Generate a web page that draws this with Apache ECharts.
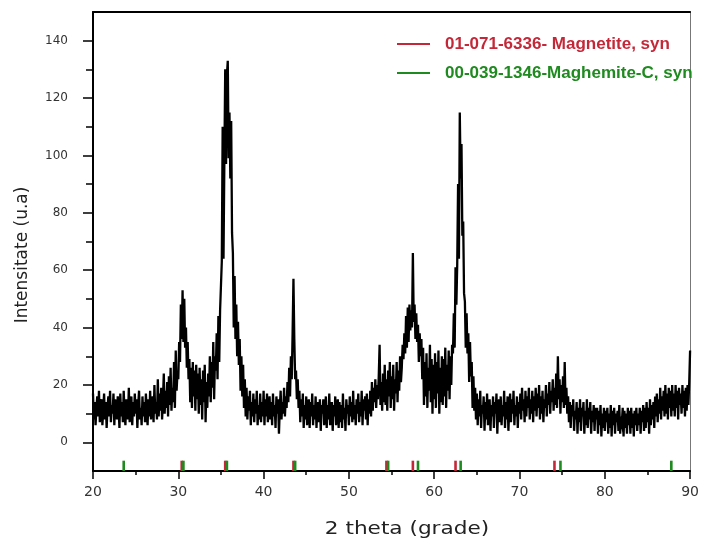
<!DOCTYPE html>
<html>
<head>
<meta charset="utf-8">
<script src="https://cdn.jsdelivr.net/npm/echarts@6/dist/echarts.min.js"></script>
<style>
  html, body { margin: 0; padding: 0; background: #fff; }
  #chart { width: 702px; height: 539px; }
</style>
</head>
<body>
<div id="chart"></div>
<script>
// XRD scan: intensity sampled every 0.1 degree 2-theta from 20 to 90 (one row per degree)
const scanStart = 20;
const scanStep = 0.1;
const intensity = [
  17, 8, 14, 6, 12, 16, 9, 18, 7, 13,          // 20
  15, 6, 11, 17, 8, 14, 5, 12, 16, 9,          // 21
  18, 7, 13, 10, 17, 6, 15, 11, 8, 16,         // 22
  12, 5, 17, 9, 14, 7, 18, 10, 6, 15,          // 23
  13, 8, 19, 7, 11, 16, 6, 14, 9, 17,          // 24
  10, 15, 5, 13, 18, 8, 12, 6, 16, 9,          // 25
  14, 7, 17, 11, 6, 15, 9, 18, 8, 13,          // 26
  16, 7, 20, 10, 14, 8, 22, 9, 17, 11,         // 27
  19, 8, 15, 24, 10, 18, 12, 21, 9, 23,        // 28
  13, 26, 11, 19, 14, 28, 12, 32, 18, 24,      // 29
  22, 35, 28, 48, 36, 53, 35, 50, 33, 40,      // 30
  26, 35, 22, 29, 14, 26, 12, 28, 16, 25,      // 31
  11, 27, 15, 24, 10, 26, 13, 22, 8, 25,       // 32
  14, 27, 7, 21, 12, 24, 16, 30, 14, 28,       // 33
  19, 35, 15, 30, 25, 38, 22, 44, 28, 46,      // 34
  46, 63, 110, 64, 98, 130, 97, 128, 133, 99,  // 35
  115, 92, 112, 73, 66, 40, 58, 36, 48, 30,    // 36
  42, 27, 36, 18, 30, 16, 27, 12, 22, 9,       // 37
  19, 8, 16, 11, 18, 6, 14, 9, 17, 7,          // 38
  15, 10, 18, 6, 13, 8, 17, 7, 14, 9,          // 39
  18, 6, 15, 9, 17, 7, 12, 16, 8, 14,          // 40
  6, 17, 9, 13, 5, 16, 10, 15, 3, 12,          // 41
  18, 8, 14, 10, 19, 9, 16, 12, 21, 14,        // 42
  26, 16, 30, 22, 38, 57, 36, 22, 25, 15,      // 43
  22, 12, 18, 7, 15, 9, 17, 5, 13, 8,          // 44
  16, 6, 12, 15, 5, 14, 9, 17, 6, 13,          // 45
  8, 16, 5, 12, 14, 7, 15, 4, 13, 10,          // 46
  15, 6, 11, 16, 5, 13, 8, 17, 6, 12,          // 47
  14, 4, 13, 9, 16, 6, 11, 15, 5, 14,          // 48
  7, 13, 5, 17, 8, 12, 4, 15, 10, 13,          // 49
  6, 16, 9, 14, 7, 18, 8, 13, 6, 15,           // 50
  10, 17, 7, 14, 9, 18, 6, 15, 11, 16,         // 51
  8, 17, 6, 15, 10, 18, 9, 21, 11, 19,         // 52
  14, 22, 12, 20, 15, 23, 34, 13, 21, 11,      // 53
  24, 14, 27, 13, 22, 11, 25, 16, 28, 12,      // 54
  23, 15, 27, 11, 22, 17, 28, 14, 25, 18,      // 55
  30, 21, 26, 34, 29, 38, 31, 44, 33, 47,      // 56
  35, 48, 39, 46, 40, 66, 42, 48, 36, 45,      // 57
  35, 41, 28, 38, 30, 36, 22, 33, 13, 28,      // 58
  16, 31, 12, 26, 18, 34, 14, 29, 10, 27,      // 59
  15, 31, 12, 28, 17, 32, 10, 26, 14, 30,      // 60
  13, 29, 16, 33, 12, 27, 18, 32, 15, 30,      // 61
  20, 34, 31, 45, 33, 61, 48, 62, 90, 64,      // 62
  115, 92, 104, 72, 77, 52, 49, 33, 45, 31,    // 63
  38, 21, 35, 23, 28, 12, 23, 11, 19, 8,       // 64
  17, 6, 15, 9, 18, 5, 13, 10, 16, 4,          // 65
  14, 8, 17, 6, 12, 15, 4, 13, 9, 16,          // 66
  5, 14, 10, 17, 3, 12, 15, 7, 16, 6,          // 67
  13, 9, 18, 5, 14, 8, 16, 4, 12, 17,          // 68
  7, 15, 10, 18, 6, 13, 9, 16, 5, 14,          // 69
  10, 17, 8, 19, 11, 15, 7, 18, 9, 16,         // 70
  12, 19, 8, 15, 10, 18, 7, 16, 11, 19,        // 71
  9, 17, 12, 20, 8, 16, 10, 18, 7, 15,         // 72
  12, 20, 9, 17, 13, 21, 10, 18, 14, 22,       // 73
  11, 19, 13, 24, 12, 30, 15, 22, 10, 20,      // 74
  14, 23, 12, 28, 13, 19, 10, 16, 7, 14,       // 75
  5, 13, 9, 15, 4, 11, 8, 14, 3, 12,           // 76
  7, 15, 4, 12, 9, 14, 3, 11, 6, 15,           // 77
  5, 12, 8, 14, 3, 11, 7, 13, 4, 12,           // 78
  8, 12, 3, 11, 6, 13, 2, 10, 5, 12,           // 79
  4, 11, 7, 12, 3, 10, 5, 13, 2, 11,           // 80
  6, 12, 3, 10, 7, 11, 4, 13, 3, 9,            // 81
  7, 12, 2, 11, 5, 10, 3, 12, 6, 11,           // 82
  3, 12, 5, 10, 2, 11, 6, 12, 4, 10,           // 83
  6, 12, 3, 11, 7, 13, 4, 12, 5, 14,           // 84
  7, 12, 3, 15, 6, 13, 8, 14, 5, 16,           // 85
  9, 17, 7, 15, 10, 19, 8, 16, 11, 18,         // 86
  9, 20, 10, 17, 8, 19, 12, 18, 9, 20,         // 87
  11, 17, 9, 20, 12, 18, 8, 19, 13, 17,        // 88
  10, 20, 12, 18, 9, 19, 11, 20, 13, 21,       // 89
  32                                           // 90
];

// Reference pattern line positions (2-theta)
const magnetiteName = '01-071-6336- Magnetite, syn';
const maghemiteName = '00-039-1346-Maghemite-C, syn';
const magnetiteLines = [30.4, 35.5, 43.5, 54.4, 57.5, 62.5, 74.1];
const maghemiteLines = [23.6, 30.6, 35.7, 43.7, 54.6, 58.1, 63.1, 74.8, 87.8];
const stickBase = -10;
const stickTop = -6.4;

// Axis ticks
const xMin = 20, xMax = 90, xStep = 10;
const yMin = -10, yMax = 150;
const yMajorTicks = [0, 20, 40, 60, 80, 100, 120, 140];
const yMinorTicks = [10, 30, 50, 70, 90, 110, 130];

const scan = intensity.map((v, i) => [+(scanStart + i * scanStep).toFixed(2), v]);

const tickFont = 'DejaVu Sans, sans-serif';
const legendFont = 'Liberation Sans, Arial, sans-serif';

function stickRenderer(params, api) {
  const top = api.coord([api.value(0), api.value(1)]);
  const base = api.coord([api.value(0), stickBase]);
  return {
    type: 'rect',
    shape: { x: top[0] - 1.3, y: top[1], width: 2.6, height: base[1] - top[1] },
    style: { fill: api.visual('color') }
  };
}

const chart = echarts.init(document.getElementById('chart'), null, { renderer: 'canvas' });

chart.setOption({
  animation: false,
  backgroundColor: '#ffffff',
  grid: { left: 93, right: 8, top: 12, bottom: 68, containLabel: false },
  legend: {
    orient: 'vertical',
    left: 397,
    top: 34,
    padding: 0,
    itemWidth: 33,
    itemHeight: 2,
    itemGap: 9,
    icon: 'rect',
    selectedMode: false,
    textStyle: {
      fontFamily: legendFont,
      fontSize: 17,
      fontWeight: 'bold',
      lineHeight: 20,
      padding: [0, 0, 0, 10]
    },
    data: [
      { name: magnetiteName, textStyle: { color: '#c42838' } },
      { name: maghemiteName, textStyle: { color: '#1f8a1f' } }
    ]
  },
  xAxis: [
    {
      type: 'value',
      min: xMin, max: xMax, interval: xStep,
      position: 'bottom',
      axisLine: { show: true, onZero: false, lineStyle: { color: '#000', width: 2 } },
      axisTick: { show: true, inside: false, length: 8, lineStyle: { color: '#000', width: 1.5 } },
      minorTick: { show: true, splitNumber: 2, length: 4, lineStyle: { color: '#000', width: 1.5 } },
      axisLabel: { margin: 14, color: '#333', fontFamily: tickFont, fontSize: 14 },
      splitLine: { show: false }
    },
    {
      type: 'value',
      min: xMin, max: xMax,
      position: 'top',
      axisLine: { show: true, onZero: false, lineStyle: { color: '#000', width: 2 } },
      axisTick: { show: false },
      axisLabel: { show: false },
      splitLine: { show: false }
    }
  ],
  yAxis: [
    {
      type: 'value',
      min: yMin, max: yMax,
      position: 'left',
      axisLine: { show: true, onZero: false, lineStyle: { color: '#000', width: 2 } },
      axisTick: { show: true, inside: false, length: 10, customValues: yMajorTicks, lineStyle: { color: '#000', width: 1.5 } },
      axisLabel: { margin: 25, customValues: yMajorTicks, color: '#333', fontFamily: tickFont, fontSize: 12 },
      splitLine: { show: false }
    },
    {
      type: 'value',
      min: yMin, max: yMax,
      position: 'left',
      axisLine: { show: false },
      axisTick: { show: true, inside: false, length: 7, customValues: yMinorTicks, lineStyle: { color: '#000', width: 1.5 } },
      axisLabel: { show: false },
      splitLine: { show: false }
    },
    {
      type: 'value',
      min: yMin, max: yMax,
      position: 'right',
      axisLine: { show: true, onZero: false, lineStyle: { color: '#777', width: 1 } },
      axisTick: { show: false },
      axisLabel: { show: false },
      splitLine: { show: false }
    }
  ],
  graphic: [
    {
      type: 'text',
      x: 23, y: 255,
      rotation: Math.PI / 2,
      style: {
        text: 'Intensitate (u.a)',
        font: '17px DejaVu Sans, sans-serif',
        fill: '#222',
        align: 'center',
        verticalAlign: 'middle'
      }
    },
    {
      type: 'text',
      x: 407, y: 529,
      scaleX: 1.2,
      style: {
        text: '2 theta (grade)',
        font: '18px DejaVu Sans, sans-serif',
        fill: '#222',
        align: 'center',
        verticalAlign: 'middle'
      }
    }
  ],
  series: [
    {
      name: 'scan',
      type: 'line',
      xAxisIndex: 0,
      yAxisIndex: 0,
      data: scan,
      showSymbol: false,
      symbol: 'none',
      sampling: null,
      lineStyle: { color: '#000', width: 2.3, join: 'miter', cap: 'butt' },
      z: 3
    },
    {
      name: magnetiteName,
      type: 'custom',
      xAxisIndex: 0,
      yAxisIndex: 0,
      renderItem: stickRenderer,
      itemStyle: { color: '#c42838' },
      data: magnetiteLines.map(p => [p, stickTop]),
      z: 4
    },
    {
      name: maghemiteName,
      type: 'custom',
      xAxisIndex: 0,
      yAxisIndex: 0,
      renderItem: stickRenderer,
      itemStyle: { color: '#1f8a1f' },
      data: maghemiteLines.map(p => [p, stickTop]),
      z: 4
    }
  ]
});
</script>
</body>
</html>
